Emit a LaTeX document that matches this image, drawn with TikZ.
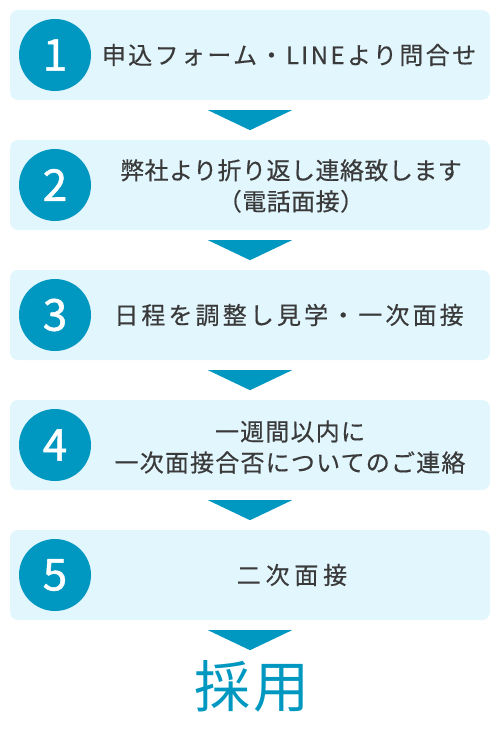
\documentclass[tikz,border=0pt]{standalone}
\usepackage{fontspec}
\setmainfont{Noto Sans CJK JP}[FakeBold=0.4]
\newfontfamily\numfont{Noto Sans CJK JP}[FakeBold=1.2]
\newfontfamily\bigfont{Noto Sans CJK JP}[LetterSpace=6]
\usetikzlibrary{calc,positioning}

\definecolor{flowteal}{HTML}{0098C0}
\definecolor{flowpale}{HTML}{E2F6FD}
\definecolor{flowtext}{HTML}{3A3A3A}

\tikzset{
  panel/.style={fill=flowpale, rounded corners=8pt, minimum width=480, minimum height=90, inner sep=0pt},
  numdot/.style={circle, fill=flowteal, minimum size=72, inner sep=0pt, text=white, font=\numfont\fontsize{44}{44}\selectfont},
  label/.style={text=flowtext, align=center, font=\fontsize{24}{31}\selectfont\addfontfeature{LetterSpace=#1}},
  label/.default=0,
  arrowhead/.style={fill=flowteal}
}

\begin{document}
\begin{tikzpicture}[x=1pt,y=-1pt]

  \useasboundingbox (0,0) rectangle (500,730);

  \node[panel] (box1) at (250,55) {};
  \node[panel] (box2) at (250,185) {};
  \node[panel] (box3) at (250,315) {};
  \node[panel] (box4) at (250,445) {};
  \node[panel] (box5) at (250,575) {};

  \node[numdot] (num1) at (55,55) {1};
  \node[numdot] (num2) at (55,185) {2};
  \node[numdot] (num3) at (55,315) {3};
  \node[numdot] (num4) at (55,445) {4};
  \node[numdot] (num5) at (55,575) {5};

  \node[label=10] (txt1) at (289,55) {申込フォーム・LINEより問合せ};
  \node[label=2] (txt2) at (291,186) {弊社より折り返し連絡致します\\（電話面接）};
  \node[label=13] (txt3) at (289,315) {日程を調整し見学・一次面接};
  \node[label=5] (txt4) at (290,447) {一週間以内に\\一次面接合否についてのご連絡};
  \node[label=20] (txt5) at (292,575) {二次面接};

  % arrows between the steps
  \fill[arrowhead] ($(box1.south)+(-42,10)$) -- ($(box1.south)+(42,10)$) -- ($(box1.south)+(0,30)$) -- cycle;
  \fill[arrowhead] ($(box2.south)+(-42,10)$) -- ($(box2.south)+(42,10)$) -- ($(box2.south)+(0,30)$) -- cycle;
  \fill[arrowhead] ($(box3.south)+(-42,10)$) -- ($(box3.south)+(42,10)$) -- ($(box3.south)+(0,30)$) -- cycle;
  \fill[arrowhead] ($(box4.south)+(-42,10)$) -- ($(box4.south)+(42,10)$) -- ($(box4.south)+(0,30)$) -- cycle;
  \fill[arrowhead] ($(box5.south)+(-42,10)$) -- ($(box5.south)+(42,10)$) -- ($(box5.south)+(0,30)$) -- cycle;

  \node[text=flowteal, font=\bigfont\fontsize{56}{56}\selectfont] (hired) at (252,686) {採用};

\end{tikzpicture}
\end{document}
